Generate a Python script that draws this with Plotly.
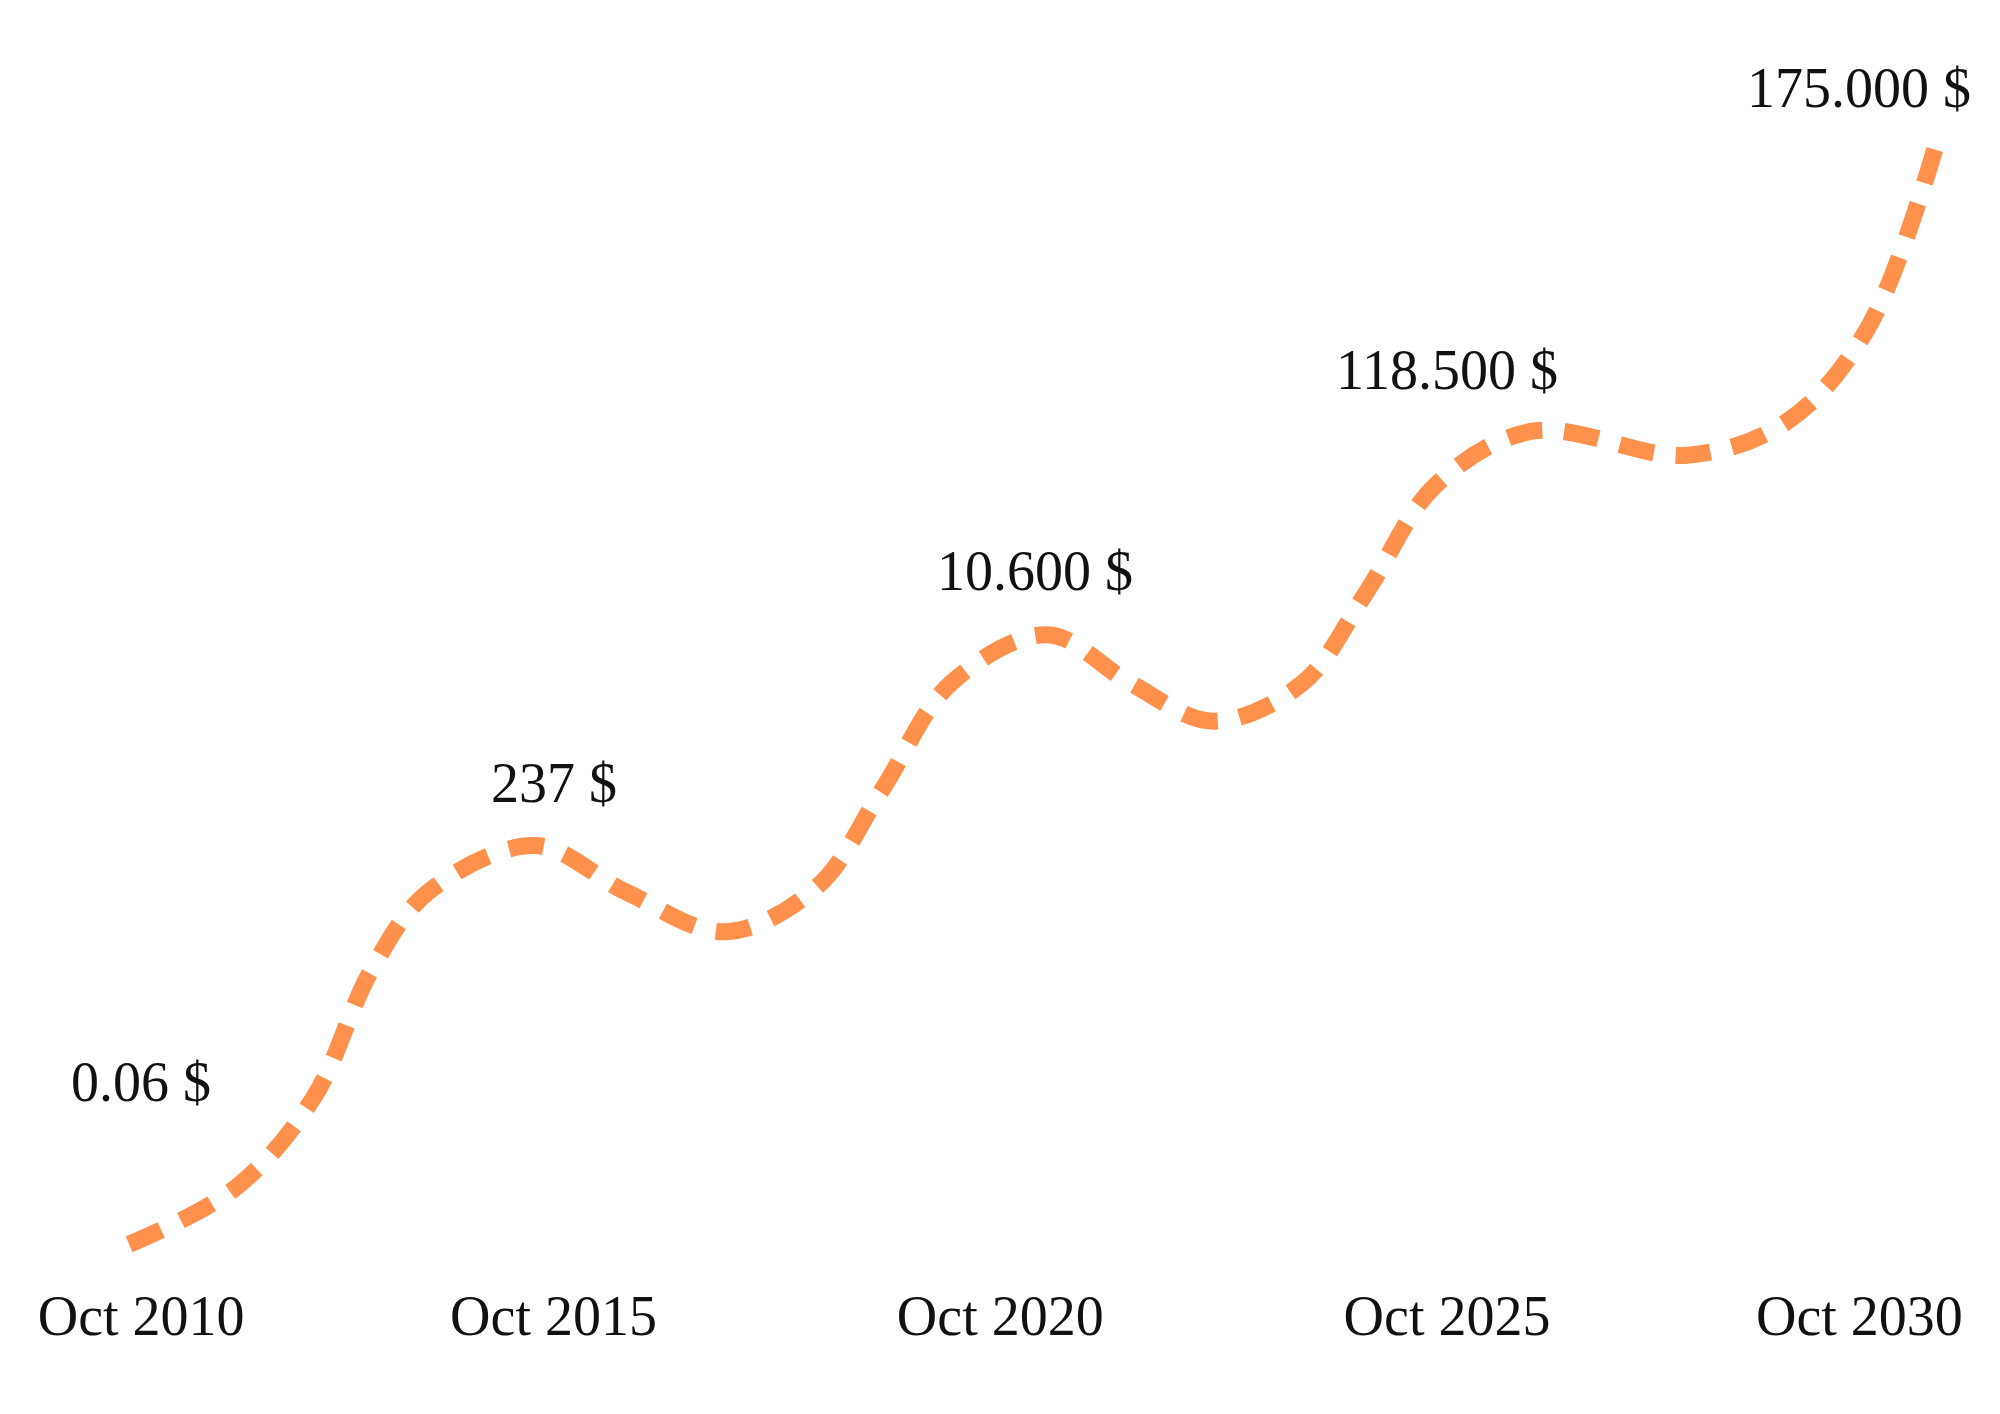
import plotly.graph_objects as go

_ORANGE = "#FF914D"
_TEXT = "#111111"
_FONT = "Liberation Serif"

# curve: decimal year vs. a relative level (0-100)
curve_year = [2009.86, 2011.12, 2012.01, 2012.68, 2013.34, 2014.58, 2015.65, 2016.80,
              2017.87, 2018.62, 2019.43, 2020.55, 2021.51, 2022.48, 2023.52, 2024.26,
              2025.07, 2026.19, 2028.00, 2029.16, 2030.08, 2030.91]
curve_level = [12.0, 16.1, 22.4, 31.4, 36.9, 40.2, 36.9, 34.1,
               37.3, 44.1, 51.7, 55.1, 51.7, 49.0, 51.7, 58.1,
               65.7, 69.5, 67.8, 70.2, 76.6, 90.1]

# price labels
price_text = ["0.06 $", "237 $", "10.600 $", "118.500 $", "175.000 $"]
price_year = [2010.0, 2014.8, 2020.4, 2025.2, 2030.0]
price_level = [23.5, 44.6, 59.6, 73.8, 93.8]

# x axis labels
tick_year = [2010.0, 2014.8, 2020.0, 2025.2, 2030.0]
tick_text = ["Oct 2010", "Oct 2015", "Oct 2020", "Oct 2025", "Oct 2030"]

fig = go.Figure(go.Scatter(
    x=curve_year,
    y=curve_level,
    mode="lines",
    line={"color": _ORANGE, "width": 17, "shape": "spline", "smoothing": 1.0, "dash": "35px,22px"},
    hoverinfo="skip",
))

for t, xv, yv in zip(price_text, price_year, price_level):
    fig.add_annotation(x=xv, y=yv, text=t, showarrow=False,
                       xanchor="center", yanchor="middle",
                       font={"family": _FONT, "size": 56, "color": _TEXT})

fig.update_layout(
    width=2000,
    height=1414,
    paper_bgcolor="white",
    plot_bgcolor="white",
    margin={"l": 0, "r": 0, "t": 0, "b": 144},
    showlegend=False,
    font={"family": _FONT, "size": 56, "color": _TEXT},
    xaxis={
        "range": [2008.45, 2031.73],
        "tickvals": tick_year,
        "ticktext": tick_text,
        "showgrid": False,
        "zeroline": False,
        "showline": False,
        "ticks": "",
        "fixedrange": True,
    },
    yaxis={
        "range": [9.62, 99.43],
        "visible": False,
        "fixedrange": True,
    },
)

fig.write_html("out.html")
